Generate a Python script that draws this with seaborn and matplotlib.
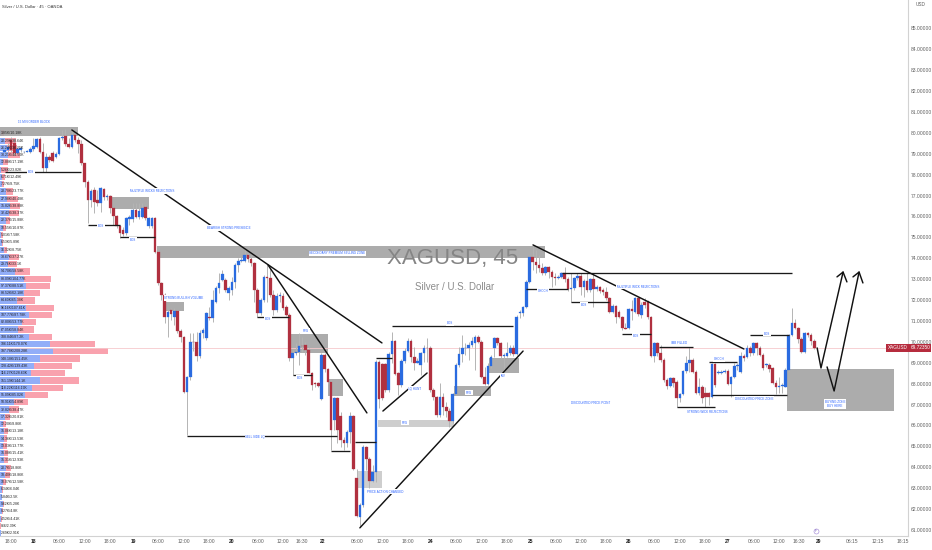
# XAGUSD 45m chart with volume profile and hand drawn analysis

import numpy as np
import matplotlib
matplotlib.use("Agg")
import matplotlib.pyplot as plt
import seaborn as sns

# ----- Candles (prices) -----
opens = [79.10,79.18,79.66,79.50,79.06,79.18,79.07,79.10,79.09,79.22,
79.34,79.69,79.07,78.31,78.87,79.06,78.87,78.99,79.74,79.85,
79.47,79.34,79.90,79.66,79.47,78.58,77.67,76.79,77.27,76.79,
76.63,77.32,76.95,76.98,76.39,76.03,75.55,75.36,75.20,75.87,
75.87,76.31,75.96,75.99,76.44,75.55,75.55,75.91,74.32,72.84,
72.25,71.21,71.53,71.21,71.50,70.54,70.22,67.62,68.31,70.01,
70.01,69.30,70.41,70.17,71.21,71.13,71.93,72.57,72.98,72.98,
72.33,72.48,72.88,73.68,73.88,73.88,74.14,73.95,73.76,72.48,
71.39,72.00,73.12,73.08,72.24,71.52,72.21,72.19,71.65,71.28,
69.24,69.45,69.53,69.82,69.85,69.61,68.52,68.01,68.01,67.25,
69.37,68.68,68.09,66.26,67.30,66.45,65.30,65.14,65.70,66.45,
63.47,61.63,62.19,64.95,64.38,63.36,63.79,69.05,68.92,68.92,
67.69,69.42,70.04,68.49,67.93,69.08,69.58,70.04,69.29,69.00,
68.89,69.45,69.73,69.73,67.69,67.34,66.50,67.38,66.90,66.71,
66.23,67.50,68.89,69.42,69.69,69.73,69.85,69.96,70.21,70.01,
68.33,67.98,68.84,69.69,70.17,69.93,69.32,69.32,69.45,69.69,
69.42,71.36,71.39,71.65,72.88,74.04,73.83,73.69,73.52,73.28,
73.56,73.36,73.12,73.04,73.12,73.31,72.99,72.51,72.56,73.04,
73.15,72.64,72.93,72.48,72.99,72.51,72.61,72.48,72.37,72.08,
71.44,71.71,71.44,71.17,70.64,70.64,71.55,71.44,72.08,71.28,
71.92,71.92,71.17,69.32,69.93,69.48,69.13,68.17,67.88,68.25,
68.09,67.30,67.50,68.60,68.97,69.13,68.57,67.57,67.82,67.57,
67.53,67.38,68.92,68.52,68.52,68.57,68.62,67.98,68.33,68.86,
68.57,69.32,69.29,69.73,69.45,69.96,69.73,69.37,68.89,68.89,
68.73,68.04,67.85,67.88,67.85,68.65,70.33,70.88,70.64,70.12,
69.53,70.41,70.33,70.04]

closes = [79.18,79.34,79.18,79.02,79.22,79.26,79.10,79.15,79.22,79.38,
79.69,79.07,78.31,78.87,78.71,78.67,78.99,79.74,79.79,79.47,
79.34,79.90,79.66,79.47,78.58,77.67,76.79,77.24,76.71,76.63,
77.35,76.92,76.98,76.39,76.03,75.55,75.20,75.17,75.91,75.99,
76.31,75.99,76.28,76.39,75.91,75.91,75.91,74.32,72.84,72.25,
71.21,71.45,71.34,71.50,70.54,70.25,67.62,68.31,70.01,69.97,
69.30,70.41,70.57,71.37,71.13,72.01,72.60,72.80,73.25,72.49,
72.57,72.88,73.68,73.88,73.91,74.14,73.95,73.76,72.48,71.39,
72.00,73.12,73.08,72.24,71.52,72.21,72.24,71.60,71.28,69.24,
69.48,69.53,69.82,69.80,69.61,68.52,67.93,67.98,67.88,69.37,
68.68,68.09,65.78,67.30,65.78,65.30,65.14,65.70,66.45,63.90,
61.67,62.19,64.95,64.38,63.36,63.79,69.05,67.26,67.30,67.69,
69.42,70.04,68.46,67.93,69.08,69.58,70.04,69.29,69.00,69.10,
69.45,69.73,69.72,67.69,67.34,66.50,67.38,66.90,66.71,66.23,
67.50,68.89,69.42,69.69,69.73,69.85,70.06,70.21,70.01,68.33,
67.98,68.84,69.29,70.17,69.93,69.32,69.35,69.45,69.69,69.42,
71.20,71.44,71.65,72.88,74.04,73.83,73.69,73.52,73.28,73.56,
73.36,73.12,73.08,73.12,73.31,72.99,72.51,72.56,73.04,73.15,
72.64,72.93,72.48,72.99,72.51,72.64,72.45,72.37,72.08,71.44,
71.71,71.20,71.17,70.64,70.63,71.55,71.47,72.08,71.33,71.76,
71.76,71.17,69.32,69.93,69.48,69.13,68.17,67.88,68.25,68.04,
67.30,67.50,68.60,68.97,69.13,68.57,67.57,67.82,67.30,67.38,
67.38,68.92,67.93,68.56,68.56,68.59,67.98,68.33,68.86,68.89,
69.32,69.21,69.73,69.45,69.96,69.73,69.37,68.73,68.92,68.68,
68.04,67.82,67.88,67.92,68.65,70.33,70.88,70.64,70.12,69.53,
70.44,70.33,70.04,69.72]

highs = [79.26,79.50,79.82,79.74,79.34,79.38,79.15,79.18,79.31,79.74,
79.74,79.79,79.50,79.02,78.95,79.15,79.10,79.79,80.14,80.17,
79.74,80.22,80.14,79.82,79.66,78.58,77.75,77.30,77.43,77.27,
77.43,77.38,77.08,77.03,76.44,76.07,75.60,75.48,75.99,76.07,
76.63,76.63,76.63,76.63,76.55,75.99,75.96,75.96,74.40,72.88,
72.33,71.53,71.61,71.61,71.53,70.60,70.28,68.37,70.41,70.41,
70.49,70.57,70.65,71.45,71.69,72.49,72.68,73.28,73.44,73.04,
72.65,73.12,73.76,73.99,74.07,74.55,74.27,74.15,73.83,72.56,
72.08,73.20,73.68,73.60,72.48,72.32,72.40,72.32,71.76,71.36,
69.61,69.93,70.41,70.25,70.01,69.69,68.57,68.09,68.09,69.45,
69.45,68.73,68.17,67.38,67.38,66.66,65.46,65.78,66.66,66.50,
63.90,62.27,65.06,65.01,64.50,64.11,69.13,69.13,69.00,68.97,
69.53,70.49,70.09,68.57,69.16,69.69,70.17,70.12,69.77,69.21,
69.53,69.85,70.17,69.80,67.77,67.41,68.01,67.53,67.14,66.82,
67.57,68.97,69.77,70.33,69.93,70.01,70.22,70.33,70.33,70.09,
68.81,68.97,69.37,70.25,70.25,70.01,69.45,70.01,69.85,69.85,
71.28,71.52,71.71,72.96,74.11,74.63,74.39,74.15,73.76,73.63,
73.63,73.44,73.28,73.20,73.36,73.60,73.12,73.28,73.12,73.28,
73.28,72.99,73.28,73.04,73.28,72.72,72.67,72.56,72.64,72.16,
71.81,71.76,71.52,71.23,70.88,71.60,72.00,72.16,72.16,71.92,
72.08,72.00,71.23,70.01,70.01,69.85,69.21,68.25,68.33,68.33,
68.17,67.57,68.65,69.32,69.77,69.21,68.65,68.25,67.93,67.85,
67.61,69.00,69.00,68.65,68.65,68.70,68.68,68.36,68.97,69.00,
69.53,69.42,69.85,69.80,70.01,70.01,69.80,69.45,69.00,69.00,
68.78,68.17,68.33,68.01,68.73,70.37,71.60,71.08,70.72,70.25,
70.49,70.49,70.41,70.12]

lows = [79.02,79.10,79.10,78.95,78.99,79.10,79.02,79.07,79.06,79.15,
79.26,79.02,78.15,78.15,78.63,78.63,78.79,78.95,79.66,79.38,
79.26,79.26,79.58,79.02,78.47,77.43,75.68,76.44,76.15,76.50,
76.23,76.79,76.79,76.15,75.60,75.44,74.96,75.07,75.12,75.60,
75.76,75.91,75.87,75.91,75.83,75.44,75.44,74.24,72.72,72.01,
70.89,70.25,71.05,70.81,70.41,70.01,67.54,65.55,68.18,69.57,
69.10,69.22,70.17,70.09,71.05,70.97,71.88,72.33,72.93,72.41,
72.01,72.24,72.56,73.36,73.83,73.83,73.83,73.63,71.92,71.17,
71.28,71.92,71.92,72.16,71.28,71.44,71.92,71.52,71.23,69.10,
68.42,69.37,68.89,69.53,69.37,68.49,67.69,67.85,67.82,67.22,
68.57,67.98,64.82,65.78,65.14,64.98,64.82,64.98,65.14,63.87,
61.60,61.15,62.11,63.87,62.99,63.31,63.31,66.82,67.22,67.61,
67.61,68.97,68.41,67.46,67.85,68.97,69.53,69.05,68.65,68.97,
68.41,69.05,69.05,67.61,67.22,66.42,66.42,66.50,66.42,65.94,
66.13,67.46,68.81,69.05,69.37,69.13,69.77,68.65,69.93,68.25,
67.93,67.93,68.73,69.26,69.85,69.21,68.65,69.26,69.37,69.32,
69.37,71.12,71.23,71.60,72.80,73.44,73.28,73.36,73.20,73.20,
73.04,72.64,72.72,72.99,73.04,72.88,72.45,71.92,72.48,72.96,
72.24,72.16,72.40,72.40,71.68,72.45,72.32,72.24,72.00,71.36,
71.36,70.88,71.12,70.56,70.60,70.60,71.04,71.39,71.23,71.12,
71.60,71.08,69.29,69.05,69.32,69.05,68.09,67.73,67.85,67.85,
66.90,67.14,67.46,68.52,68.57,68.52,67.50,67.46,67.06,66.90,
66.98,67.30,67.85,68.46,68.46,68.49,67.93,67.38,68.25,68.65,
68.49,69.10,69.21,69.32,69.37,69.37,69.32,68.65,68.81,68.57,
67.98,67.50,67.53,67.57,67.82,68.62,70.28,70.60,69.93,69.48,
69.48,70.25,69.85,69.64]

# ----- Volume profile -----
vp_levels = [79.98,79.63,79.28,78.94,78.59,78.24,77.89,77.55,77.20,76.85,
76.50,76.15,75.81,75.46,75.11,74.76,74.41,74.07,73.72,73.37,
73.02,72.68,72.33,71.98,71.63,71.28,70.94,70.59,70.24,69.89,
69.55,69.20,68.85,68.50,68.15,67.81,67.46,67.11,66.76,66.42,
66.07,65.72,65.37,65.02,64.68,64.33,63.98,63.63,63.28,62.94,
62.59,62.24,61.89,61.54,61.20,60.85]
vp_buy = [3.85,20.29,26.24,30.21,12.88,5.26,6.71,7.27,23.78,27.98,
35.82,32.42,22.37,10.55,5.01,6.53,16.32,33.67,29.76,54.70,
88.09,97.37,88.52,64.60,96.16,107.77,82.80,67.05,108.84,186.11,
197.78,148.18,128.42,116.27,151.19,118.22,95.09,50.91,32.82,17.32,
12.20,15.06,14.36,13.03,15.08,15.31,20.70,18.40,10.07,6.34,
5.84,9.62,8.27,4.52,0.87,2.69]
vp_sell = [10.18,38.64,36.25,44.50,17.19,23.82,12.49,8.75,23.77,40.48,
38.88,38.37,15.88,10.87,7.58,5.89,8.75,37.27,33.10,58.58,
104.77,88.51,62.18,65.38,107.61,87.78,53.77,58.84,87.20,170.07,
208.28,151.45,139.43,128.63,144.10,116.19,85.02,54.89,38.47,20.81,
8.86,13.18,13.53,13.77,15.41,12.93,18.86,18.86,12.58,6.04,
2.50,5.28,4.80,4.41,2.39,2.91]
vp_labels = ["3.85K/10.18K","20.29K/38.64K","26.24K/36.25K","30.21K/44.50K","12.88K/17.19K",
"5.26K/23.82K","6.71K/12.49K","7.27K/8.75K","23.78K/23.77K","27.98K/40.48K",
"35.82K/38.88K","32.42K/38.37K","22.37K/15.88K","10.55K/10.87K","5.01K/7.58K",
"6.53K/5.89K","16.32K/8.75K","33.67K/37.27K","29.76K/33.1K","54.70K/58.58K",
"88.09K/104.77K","97.37K/88.51K","88.52K/62.18K","64.60K/65.38K","96.16K/107.61K",
"107.77K/87.78K","82.80K/53.77K","67.05K/58.84K","108.84K/87.2K","186.11K/170.07K",
"197.78K/208.28K","148.18K/151.45K","128.42K/139.43K","116.27K/128.63K","151.19K/144.1K",
"118.22K/116.19K","95.09K/85.02K","50.91K/54.89K","32.82K/38.47K","17.32K/20.81K",
"12.20K/8.86K","15.06K/13.18K","14.36K/13.53K","13.03K/13.77K","15.08K/15.41K",
"15.31K/12.93K","20.7K/18.86K","18.40K/18.86K","10.07K/12.58K","6.34K/6.04K",
"5.84K/2.5K","9.62K/5.28K","8.27K/4.8K","4.52K/4.41K","866/2.39K","2.69K/2.91K"]

# ----- Axis ticks -----
x_ticks = [2,8.9,17,25.1,32.9,40.1,47.9,56,63.8,71,79.2,87,93,99.2,110.1,118.2,126,133.2,141,
149.2,157,164.2,172.3,180.1,187.9,195.1,202.9,211,218.8,226,234.2,242,248.2,254.2,264.8,273,280.7]
x_labels = ["18:00","18","06:00","12:00","18:00","19","06:00","12:00","18:00","20","06:00","12:00",
"16:30","22","06:00","12:00","18:00","24","06:00","12:00","18:00","25","06:00","12:00","18:00",
"26","06:00","12:00","18:00","27","06:00","12:00","16:30","29","06:15","12:15","18:15"]
y_ticks = list(range(61, 86))

# ----- Drawn analysis: (start, end, low, high) zones -----
dark_zones = [(-1.5,22.9,79.85,80.28),(33.5,45,76.36,76.93),(47.6,168.9,74.01,74.60),(50.4,56,71.48,71.91),
(89.5,101,69.47,70.38),(101,105.7,67.41,68.22),(140.4,152,67.41,67.89),(151.4,160.7,68.51,69.23),
(244.5,278,66.69,68.70)]
light_zones = [(110.5,118,63.01,63.82),(116.6,140.4,65.93,66.26)]

# (start, end, price) levels
levels = [(0,24,78.13),(26,36,75.59),(36,47,75.02),(57,104,65.51),(79,89,71.19),(90,96,68.42),
(102,108,64.78),(109.5,116,65.21),(116,121,69.23),(121,159,70.76),(163,176,72.53),(177,189,71.91),
(193,202,70.38),(204.5,215,69.76),(220,229,69.04),(210,222,66.89),(221,244.5,67.46),(233,245,70.33),
(174.2,246,73.30)]

# (x1, x2, y1, y2) trend lines
trends = [(21,117.9,80.14,69.95),(82.3,113.2,73.68,66.60),(111,162,61.10,69.56),
(118.2,132,66.69,68.51),(165.1,231,74.64,69.66)]

# forecast paths
path_a_x = [253.9,255.1,262]
path_a_y = [69.71,68.75,73.34]
head_a_x = [260.1,262,263.2]
head_a_y = [73.11,73.34,72.87]
path_b_x = [257,259.2,267]
path_b_y = [68.80,67.65,73.34]
head_b_x = [265.1,267,268.2]
head_b_y = [73.11,73.34,72.82]

notes = ["15 MIN ORDER BLOCK","BOS","MULTIPLE WICKS REJECTIONS","BOS","BOS","BEARISH STRONG PRESENCE",
"STRONG BULLISH VOLUME","SELL SIDE LQ","BOS","FVG","BOS","SECONDARY PREMIUM SELLING ZONE","BOS","LQ HUNT",
"FVG","FVG","PRICE ACTION CHANGED","INV","CHOCH","BOS","MULTIPLE WICK REJECTIONS","BOS","IMB FILLED",
"CHOCH","BOS","DISCOUNTED PRICE POINT","STRONG WICK REJECTIONS","DISCOUNTED PRICE ZONE","BUYING ZONE\nBUY HERE"]
note_x = [9.2,8.2,46,30.1,40.1,70.1,56,78.2,82.3,94.2,92.3,103.9,139.2,128.2,125.1,145.1,118.9,155.7,
168.2,181,197.9,197.3,210.7,223.2,238.2,183.2,219.5,234.2,259.5]
note_y = [80.52,78.13,77.22,75.55,74.88,75.45,72.10,65.45,71.10,70.52,68.27,74.25,70.90,67.75,66.12,67.56,
62.82,68.37,72.44,71.77,72.63,70.28,69.95,69.18,70.38,67.08,66.65,67.27,67.03]

last_price = 69.72

# ----- Figure -----
sns.set_theme(style="white")
plt.rcParams["font.family"] = ["Liberation Sans", "DejaVu Sans"]

W, H = 932, 550
fig = plt.figure(figsize=(W / 100, H / 100), dpi=100)
ax = fig.add_axes([0, 14 / H, 908 / W, 536 / H])

# volume profile sits on its own x scale, behind the candles
ax_vp = ax.twiny()
total = np.array(vp_buy) + np.array(vp_sell)
sns.barplot(x=total, y=vp_levels, orient="y", native_scale=True, color="#F9A2AE", saturation=1,
            width=0.88, linewidth=0, errorbar=None, ax=ax_vp)
sns.barplot(x=vp_buy, y=vp_levels, orient="y", native_scale=True, color="#92AEF8", saturation=1,
            width=0.88, linewidth=0, errorbar=None, ax=ax_vp)
ax_vp.set_xlim(0, 908 / 0.267)
ax_vp.set_xticks([])
ax_vp.set_xlabel("")
ax_vp.set_ylabel("")
ax_vp.grid(False)
for s in ax_vp.spines.values():
    s.set_visible(False)
ax_vp.set_zorder(0)
ax.set_zorder(1)
ax.patch.set_visible(False)

# watermark
ax.text(140, 73.97, "XAGUSD, 45", fontsize=16, color="#858585", ha="center", va="center", zorder=1.5)
ax.text(140.5, 72.63, "Silver / U.S. Dollar", fontsize=7, color="#8c8c8c", ha="center", va="center", zorder=1.5)

# zones
for x1, x2, lo_, hi_ in dark_zones:
    ax.fill_between([x1, x2], lo_, hi_, color="#a3a3a3", alpha=0.9, lw=0, zorder=1)
for x1, x2, lo_, hi_ in light_zones:
    ax.fill_between([x1, x2], lo_, hi_, color="#c9c9c9", alpha=0.9, lw=0, zorder=1)

# last price line
ax.axhline(last_price, color="#f6c9cc", lw=0.6, zorder=1.2)

# candles
k = np.arange(len(closes))
o, c, hi, lo = map(np.array, (opens, closes, highs, lows))
up = c >= o
colors = np.where(up, "#2a6be0", "#b0303f")
ax.vlines(k, lo, hi, color="#b4b4b4", lw=0.7, zorder=2)
ax.bar(k, np.abs(c - o), bottom=np.minimum(o, c), width=0.8, color=colors, edgecolor=colors, lw=0.2, zorder=3)

# levels and trend lines
for x1, x2, y in levels:
    ax.plot([x1, x2], [y, y], color="#1a1a1a", lw=0.95, zorder=4, solid_capstyle="butt")
for x1, x2, y1, y2 in trends:
    ax.plot([x1, x2], [y1, y2], color="#111111", lw=1.05, zorder=4)
for px_, py_ in [(path_a_x, path_a_y), (head_a_x, head_a_y), (path_b_x, path_b_y), (head_b_x, head_b_y)]:
    ax.plot(px_, py_, color="#111111", lw=1.05, zorder=4)

# blue notes
for txt, nx, ny in zip(notes, note_x, note_y):
    ax.text(nx, ny, txt, fontsize=2.2, color="#2962ff", ha="center", va="center", zorder=5, linespacing=1.1,
            bbox=dict(facecolor="white", edgecolor="none", pad=0.4))

# volume labels
for txt, y in zip(vp_labels, vp_levels):
    ax.text(0.0012, y, txt, transform=ax.get_yaxis_transform(), fontsize=2.5, color="#222222",
            ha="left", va="center", zorder=6)

# marker near the time axis
ax.scatter([253.5], [60.95], s=13, facecolor="white", edgecolor="#9a7fd1", lw=0.4, zorder=6, clip_on=False)
ax.text(253.5, 60.95, "F", fontsize=2.4, color="#7a5fc0", ha="center", va="center", zorder=7)

# axes
ax.set_xlim(-1.46, 282.29)
ax.set_ylim(60.71, 86.36)
ax.yaxis.tick_right()
ax.set_yticks(y_ticks)
ax.set_yticklabels([f"{v:.5f}" for v in y_ticks], fontsize=3.6, color="#5f5f5f")
ax.set_xticks(x_ticks)
ax.set_xticklabels(x_labels, fontsize=3.6, color="#5f5f5f")
for lab in ax.get_xticklabels():
    if ":" not in lab.get_text():
        lab.set_fontweight("bold")
        lab.set_color("#222222")
ax.tick_params(axis="both", length=0, pad=2.2)
ax.grid(False)
for side, s in ax.spines.items():
    s.set_visible(side in ("right", "bottom"))
    s.set_color("#d2d2d2")
    s.set_linewidth(0.8)

# price tag on the axis
tag = dict(facecolor="#b62c3e", edgecolor="none", pad=1.0)
ax.text(0.9995, last_price, "XAGUSD", transform=ax.get_yaxis_transform(), fontsize=3.4, color="white",
        ha="right", va="center", zorder=8, bbox=tag)
ax.text(1.0025, last_price, f"{last_price:.2f}350", transform=ax.get_yaxis_transform(), fontsize=3.4,
        color="white", ha="left", va="center", zorder=8, clip_on=False, bbox=tag)

fig.text(2 / W, 1 - 7 / H, "Silver / U.S. Dollar · 45 · OANDA", fontsize=3, color="#333333", va="center")
fig.text(921 / W, 1 - 5 / H, "USD", fontsize=3.4, color="#5f5f5f", ha="center", va="center")

fig.savefig("out.png", dpi=100)
